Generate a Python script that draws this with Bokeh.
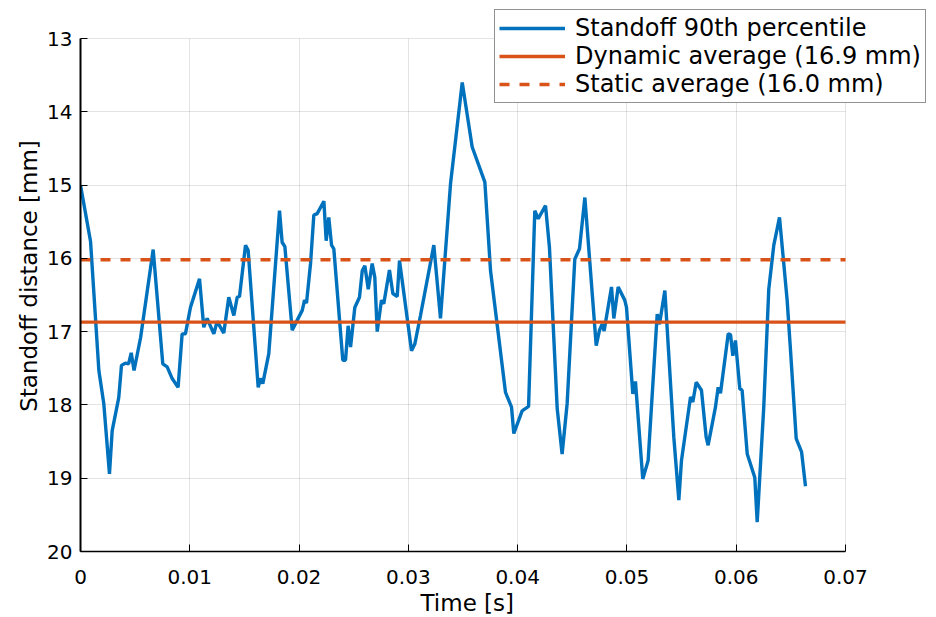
from bokeh.plotting import figure
from bokeh.models import Range1d, FixedTicker, CustomJSTickFormatter, Legend, LegendItem, Title
from bokeh.embed import file_html
from bokeh.resources import INLINE

# ---- data ----
time_s = [0.0, 0.00092, 0.00168, 0.00213, 0.00265, 0.0029, 0.0035, 0.00375, 0.0041, 0.0044,
          0.00464, 0.0049, 0.0055, 0.00665, 0.00753, 0.00793, 0.00839, 0.00893, 0.0093, 0.0096,
          0.01006, 0.01089, 0.01128, 0.01159, 0.0122, 0.0125, 0.01311, 0.01357, 0.01403, 0.01434,
          0.01455, 0.0151, 0.01534, 0.01626, 0.01647, 0.01668, 0.01723, 0.01821, 0.01845, 0.0187,
          0.01937, 0.01974, 0.02029, 0.0205, 0.02068, 0.02105, 0.02135, 0.02166, 0.02227, 0.02248,
          0.02272, 0.02297, 0.02318, 0.024, 0.02425, 0.02449, 0.02471, 0.0251, 0.02553, 0.02578,
          0.02602, 0.02633, 0.02669, 0.02693, 0.02715, 0.02754, 0.02775, 0.02827, 0.02858, 0.02898,
          0.02919, 0.03029, 0.03059, 0.03111, 0.03233, 0.03294, 0.03386, 0.03493, 0.03584, 0.037,
          0.03752, 0.03889, 0.03944, 0.03965, 0.04041, 0.041, 0.04157, 0.04188, 0.04255, 0.04291,
          0.04362, 0.04407, 0.04453, 0.04523, 0.04566, 0.04615, 0.04719, 0.04749, 0.04773, 0.04791,
          0.04859, 0.0488, 0.0492, 0.0498, 0.04996, 0.05054, 0.05078, 0.05145, 0.05194, 0.05277,
          0.05298, 0.05347, 0.05429, 0.05475, 0.05499, 0.05582, 0.05603, 0.05634, 0.05682, 0.05725,
          0.05743, 0.0581, 0.05835, 0.05856, 0.05927, 0.05948, 0.05969, 0.05993, 0.06033, 0.06054,
          0.06101, 0.0617, 0.06192, 0.06252, 0.06298, 0.06344, 0.06396, 0.06466, 0.06497, 0.06549,
          0.06598, 0.06634]
standoff_p90 = [15.0, 15.77, 17.53, 17.98, 18.94, 18.35, 17.9, 17.46, 17.43, 17.44,
                17.29, 17.53, 17.08, 15.88, 17.44, 17.48, 17.64, 17.76, 17.03, 17.03,
                16.67, 16.28, 16.94, 16.82, 17.03, 16.86, 17.02, 16.53, 16.78, 16.53,
                16.52, 15.82, 15.89, 17.76, 17.64, 17.71, 17.30, 15.35, 15.78, 15.84,
                16.98, 16.87, 16.71, 16.57, 16.61, 16.07, 15.41, 15.39, 15.22, 15.76,
                15.44, 15.82, 15.87, 17.39, 17.39, 16.92, 17.21, 16.67, 16.53, 16.17,
                16.10, 16.42, 16.07, 16.26, 17.0, 16.57, 16.62, 16.16, 16.48, 16.52,
                16.03, 17.26, 17.17, 16.78, 15.82, 16.82, 14.98, 13.60, 14.48, 14.96,
                16.17, 17.83, 18.03, 18.39, 18.08, 18.02, 15.35, 15.46, 15.28, 15.85,
                18.05, 18.67, 17.98, 16.01, 15.87, 15.17, 17.19, 16.98, 16.90, 16.99,
                16.39, 16.82, 16.39, 16.57, 16.67, 17.85, 17.68, 19.01, 18.76, 16.76,
                16.90, 16.44, 18.44, 19.30, 18.76, 17.89, 17.96, 17.69, 17.80, 18.44,
                18.55, 18.03, 17.76, 17.84, 17.03, 17.04, 17.33, 17.12, 17.78, 17.80,
                18.67, 18.99, 19.60, 18.03, 16.42, 15.82, 15.44, 16.57, 17.26, 18.46,
                18.64, 19.11]
dynamic_avg = 16.87
static_avg = 16.02
x_ticks = [0.0, 0.01, 0.02, 0.03, 0.04, 0.05, 0.06, 0.07]
y_ticks = [13, 14, 15, 16, 17, 18, 19, 20]
labels = ["Standoff 90th percentile", "Dynamic average (16.9 mm)", "Static average (16.0 mm)"]
x_title = "Time [s]"
y_title = "Standoff distance [mm]"

BLUE = "#0072BD"
ORANGE = "#D95319"
FONT = "DejaVu Sans"

# ---- layout: the plotting frame is extended to the top/right canvas edges so that the
# legend (which overlaps the axes box in the reference) is not clipped; axes are bounded.
AX_W, AX_H = 765, 513          # size of the axes box in pixels
PAD_TOP, PAD_RIGHT = 38, 91    # free space above / right of the axes box
x0, x1 = x_ticks[0], x_ticks[-1]
y_lo, y_hi = y_ticks[-1], y_ticks[0]     # inverted axis: 20 at bottom, 13 at top
x_end = x1 + (x1 - x0) * PAD_RIGHT / AX_W
y_end = y_hi - (y_lo - y_hi) * PAD_TOP / AX_H

p = figure(frame_width=AX_W + PAD_RIGHT, frame_height=AX_H + PAD_TOP,
           output_backend="svg", toolbar_location=None,
           x_range=Range1d(x0, x_end), y_range=Range1d(y_lo, y_end),
           min_border_left=80, min_border_right=0, min_border_top=0, min_border_bottom=66,
           background_fill_color="white", border_fill_color="white")
p.outline_line_color = None

# grid (bounded to the axes box; the lines at 13 and 0.07 form the light box edges)
GRID_COLOR = "#000000"
GRID_ALPHA = 0.11
has_cross = "cross_bounds" in p.xgrid[0].properties()
if has_cross:
    p.xgrid.ticker = FixedTicker(ticks=x_ticks)
    p.ygrid.ticker = FixedTicker(ticks=y_ticks)
    p.xgrid.bounds = (x0, x1)
    p.ygrid.bounds = (y_hi, y_lo)
    p.xgrid.cross_bounds = (y_hi, y_lo)
    p.ygrid.cross_bounds = (x0, x1)
    p.grid.grid_line_color = GRID_COLOR
    p.grid.grid_line_alpha = GRID_ALPHA
    p.grid.grid_line_width = 1
else:
    p.grid.grid_line_color = None
    p.segment(x0=x_ticks, y0=[y_lo] * len(x_ticks), x1=x_ticks, y1=[y_hi] * len(x_ticks),
              line_color=GRID_COLOR, line_alpha=GRID_ALPHA, line_width=1)
    p.segment(x0=[x0] * len(y_ticks), y0=y_ticks, x1=[x1] * len(y_ticks), y1=y_ticks,
              line_color=GRID_COLOR, line_alpha=GRID_ALPHA, line_width=1)

r1 = p.line(time_s, standoff_p90, line_color=BLUE, line_width=3.4)
r2 = p.line([x0, x1], [dynamic_avg, dynamic_avg], line_color=ORANGE, line_width=3.4)
r3 = p.line([x0, x1], [static_avg, static_avg], line_color=ORANGE, line_width=3.4,
            line_dash="10 10")

fmt = CustomJSTickFormatter(code="return tick == 0 ? '0' : tick.toFixed(2);")
for ax in [p.xaxis[0], p.yaxis[0]]:
    ax.major_label_text_font = FONT
    ax.major_label_text_font_size = "20px"
    ax.axis_label_text_font = FONT
    ax.axis_label_text_font_size = "23px"
    ax.axis_label_text_font_style = "normal"
    ax.axis_label_text_color = "black"
    ax.major_label_text_color = "black"
    ax.axis_line_color = "black"
    ax.major_tick_line_color = "black"
    ax.major_tick_in = 7
    ax.major_tick_out = 0
    ax.minor_tick_line_color = None
p.xaxis[0].ticker = FixedTicker(ticks=x_ticks)
p.xaxis[0].formatter = fmt
p.xaxis[0].bounds = (x0, x1)
p.yaxis[0].ticker = FixedTicker(ticks=y_ticks)
p.yaxis[0].bounds = (y_hi, y_lo)
p.yaxis[0].axis_label = y_title
p.xaxis[0].axis_line_width = 1.5
p.yaxis[0].axis_line_width = 2
p.xaxis[0].major_label_standoff = 18
p.yaxis[0].major_label_standoff = 8
p.yaxis[0].axis_label_standoff = 2

# x axis title centred under the axes box (not under the extended frame)
xt = Title(text=x_title, align="left", offset=340, standoff=2,
           text_font=FONT, text_font_size="23px", text_font_style="normal", text_color="black")
p.add_layout(xt, "below")

legend = Legend(items=[LegendItem(label=labels[0], renderers=[r1]),
                       LegendItem(label=labels[1], renderers=[r2]),
                       LegendItem(label=labels[2], renderers=[r3])],
                location=(414, 448))
legend.label_text_font = FONT
legend.label_text_font_size = "24px"
legend.label_text_color = "black"
legend.glyph_width = 66
legend.glyph_height = 26
legend.label_height = 26
legend.label_standoff = 10
legend.spacing = 0
legend.padding = 4
legend.margin = 0
legend.border_line_color = "#262626"
legend.border_line_width = 1
legend.background_fill_color = "white"
legend.background_fill_alpha = 1
p.add_layout(legend, "center")

open("out.html", "w").write(file_html(p, INLINE))
